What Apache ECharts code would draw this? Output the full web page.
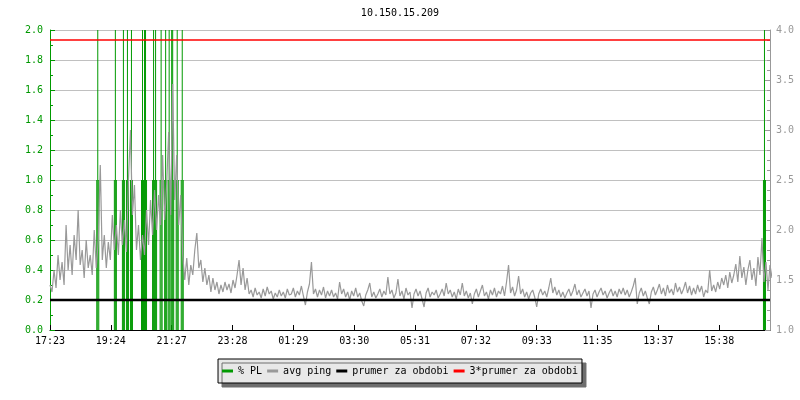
<!DOCTYPE html>
<html>
<head>
<meta charset="utf-8">
<script src="https://cdn.jsdelivr.net/npm/echarts@6/dist/echarts.min.js"></script>
<style>
	html, body { margin: 0; padding: 0; background: #fff; }
	#main { width: 800px; height: 400px; }
</style>
</head>
<body>
<div id="main"></div>
<script>
// popisky osy x (kazdy tick = 121 minut)
var xLabels = ['17:23', '19:24', '21:27', '23:28', '01:29', '03:30', '05:31', '07:32', '09:33', '11:35', '13:37', '15:38']
var tickStep = 121
var xMax = 1432

// avg ping, vzorek kazde 4 minuty (prava osa)
var pingStep = 4
var pingValues = [
	1.45, 1.38, 1.60, 1.42, 1.75, 1.50, 1.68, 1.45, 2.05, 1.60, 1.85, 1.55, 1.95, 1.70, 2.20, 1.65, 1.80, 1.52, 1.90, 1.62,
	1.75, 1.55, 2.00, 1.62, 1.90, 2.65, 1.70, 1.95, 1.62, 1.88, 1.70, 2.15, 1.80, 2.05, 1.75, 2.20, 1.85, 2.10, 1.78, 2.50,
	3.00, 2.15, 2.45, 1.80, 2.05, 1.70, 1.95, 1.75, 2.20, 1.85, 2.30, 1.95, 2.40, 2.00, 2.35, 2.05, 2.75, 2.10, 2.45, 2.98,
	2.15, 3.46, 2.30, 2.75, 2.05, 2.35, 1.75, 1.50, 1.72, 1.45, 1.65, 1.55, 1.80, 1.97, 1.62, 1.70, 1.48, 1.62, 1.45, 1.55,
	1.38, 1.52, 1.40, 1.48, 1.36, 1.45, 1.38, 1.48, 1.40, 1.46, 1.37, 1.50, 1.42, 1.55, 1.70, 1.45, 1.62, 1.40, 1.52, 1.36,
	1.40, 1.33, 1.42, 1.35, 1.38, 1.32, 1.41, 1.34, 1.43, 1.36, 1.39, 1.31, 1.37, 1.33, 1.40, 1.34, 1.38, 1.32, 1.41, 1.35,
	1.36, 1.42, 1.33, 1.39, 1.35, 1.44, 1.34, 1.25, 1.38, 1.46, 1.68, 1.36, 1.41, 1.33, 1.40, 1.35, 1.43, 1.32, 1.39, 1.34,
	1.40, 1.33, 1.37, 1.31, 1.48, 1.36, 1.41, 1.33, 1.38, 1.30, 1.39, 1.34, 1.42, 1.33, 1.37, 1.29, 1.24, 1.35, 1.40, 1.47,
	1.33, 1.38, 1.32, 1.36, 1.41, 1.33, 1.39, 1.35, 1.53, 1.36, 1.40, 1.32, 1.37, 1.51, 1.34, 1.39, 1.31, 1.42, 1.35, 1.38,
	1.22, 1.36, 1.41, 1.34, 1.39, 1.31, 1.23, 1.37, 1.42, 1.33, 1.38, 1.35, 1.40, 1.32, 1.36, 1.41, 1.34, 1.47, 1.36, 1.40,
	1.33, 1.38, 1.31, 1.41, 1.35, 1.47, 1.34, 1.39, 1.32, 1.37, 1.26, 1.36, 1.41, 1.33, 1.39, 1.45, 1.34, 1.38, 1.31, 1.40,
	1.35, 1.42, 1.33, 1.39, 1.36, 1.44, 1.34, 1.48, 1.65, 1.37, 1.43, 1.34, 1.40, 1.54, 1.36, 1.41, 1.33, 1.38, 1.31, 1.37,
	1.40, 1.33, 1.23, 1.36, 1.41, 1.35, 1.39, 1.33, 1.42, 1.52, 1.37, 1.43, 1.35, 1.40, 1.33, 1.38, 1.32, 1.37, 1.41, 1.34,
	1.39, 1.46, 1.35, 1.40, 1.33, 1.37, 1.41, 1.34, 1.39, 1.22, 1.36, 1.40, 1.33, 1.38, 1.42, 1.35, 1.39, 1.32, 1.37, 1.41,
	1.34, 1.39, 1.33, 1.41, 1.36, 1.42, 1.35, 1.40, 1.33, 1.38, 1.44, 1.52, 1.26, 1.37, 1.42, 1.34, 1.39, 1.32, 1.26, 1.38,
	1.43, 1.35, 1.40, 1.46, 1.36, 1.42, 1.34, 1.45, 1.37, 1.41, 1.35, 1.47, 1.38, 1.43, 1.36, 1.41, 1.48, 1.37, 1.44, 1.35,
	1.42, 1.36, 1.45, 1.38, 1.44, 1.33, 1.40, 1.37, 1.60, 1.39, 1.45, 1.38, 1.48, 1.41, 1.52, 1.45, 1.55, 1.42, 1.58, 1.47,
	1.55, 1.66, 1.48, 1.74, 1.52, 1.63, 1.45, 1.60, 1.70, 1.50, 1.62, 1.44, 1.73, 1.55, 1.92, 1.48, 1.68, 1.40, 1.65, 1.52
]

// % PL (leva osa), cas v minutach od 17:23
var plTimes = [93, 95, 97, 128, 130, 132, 144, 146, 148, 152, 154, 156, 160, 162, 164, 182, 184, 186, 188, 190, 192,
	204, 206, 208, 210, 212, 219, 221, 223, 228, 230, 232, 235, 237, 239, 242, 244, 246, 251, 253, 255, 261, 263, 265,
	1419, 1421, 1423]
var plValues = [1, 2, 1, 1, 2, 1, 1, 2, 1, 1, 2, 1, 1, 2, 1, 1, 2, 1, 2, 2, 1,
	1, 2, 1, 2, 1, 1, 2, 1, 1, 2, 1, 1, 2, 1, 2, 2, 1, 1, 2, 1, 1, 2, 1,
	1, 2, 1]

var prumer = 1.3
var leftTicks = ['0.0', '0.2', '0.4', '0.6', '0.8', '1.0', '1.2', '1.4', '1.6', '1.8', '2.0']

var font = 'DejaVu Sans Mono'
var green = '#009900'

var pingData = pingValues.map(function (v, i) { return [i * pingStep, v] })
var plData = plTimes.map(function (t, i) { return [t, plValues[i]] })

var myChart = echarts.init(document.getElementById('main'))
var option = {
	animation: false,
	backgroundColor: '#fff',
	title: {
		text: '10.150.15.209',
		left: 'center',
		top: 3,
		textStyle: { fontFamily: font, fontSize: 10, fontWeight: 'normal', color: '#000' }
	},
	grid: { left: 50, right: 30, top: 30, bottom: 70 },
	legend: {
		top: 359,
		left: 'center',
		padding: [7, 4, 7, 4],
		itemWidth: 11,
		itemHeight: 3,
		itemGap: 5,
		backgroundColor: '#e8e8e8',
		borderColor: '#000',
		borderWidth: 1,
		borderRadius: 0,
		shadowColor: '#6e6e6e',
		shadowBlur: 0,
		shadowOffsetX: 4,
		shadowOffsetY: 4,
		textStyle: { fontFamily: font, fontSize: 10, color: '#000' },
		data: [
			{ name: '% PL', icon: 'rect' },
			{ name: 'avg ping', icon: 'rect' },
			{ name: 'prumer za obdobi', icon: 'rect' },
			{ name: '3*prumer za obdobi', icon: 'rect' }
		]
	},
	xAxis: {
		type: 'value',
		min: 0,
		max: xMax,
		interval: tickStep,
		axisLine: { lineStyle: { color: '#000' } },
		axisTick: { inside: true, length: 5, lineStyle: { color: '#000' } },
		axisLabel: {
			fontFamily: font,
			fontSize: 10,
			color: '#000',
			margin: 6,
			showMaxLabel: false,
			formatter: function (v) {
				var k = Math.round(v / tickStep)
				if (Math.abs(k * tickStep - v) > 0.01) return ''
				return xLabels[k] || ''
			}
		},
		splitLine: { show: false }
	},
	yAxis: [
		{
			type: 'value',
			min: 0,
			max: 2,
			interval: 0.2,
			axisLine: { show: true, lineStyle: { color: green } },
			axisTick: { show: true, inside: true, length: 5, lineStyle: { color: green } },
			minorTick: { show: true, splitNumber: 2, length: 3, lineStyle: { color: green } },
			axisLabel: {
				fontFamily: font,
				fontSize: 10,
				color: green,
				margin: 7,
				formatter: function (v) { return leftTicks[Math.round(v / 0.2)] }
			},
			splitLine: { show: true, lineStyle: { color: '#c0c0c0', width: 1 } }
		},
		{
			type: 'value',
			min: 1,
			max: 4,
			interval: 0.5,
			position: 'right',
			axisLine: { show: true, lineStyle: { color: '#999' } },
			axisTick: { show: true, inside: true, length: 5, lineStyle: { color: '#999' } },
			minorTick: { show: true, splitNumber: 5, length: 3, lineStyle: { color: '#999' } },
			axisLabel: {
				fontFamily: font,
				fontSize: 10,
				color: '#999',
				margin: 6,
				formatter: function (v) { return v.toFixed(1) }
			},
			splitLine: { show: false }
		}
	],
	series: [
		{
			name: '% PL',
			type: 'bar',
			yAxisIndex: 0,
			barWidth: 1,
			itemStyle: { color: green },
			z: 2,
			data: plData
		},
		{
			name: 'avg ping',
			type: 'line',
			yAxisIndex: 1,
			showSymbol: false,
			symbol: 'none',
			lineStyle: { color: '#999', width: 1.2 },
			itemStyle: { color: '#999' },
			z: 3,
			data: pingData
		},
		{
			name: 'prumer za obdobi',
			type: 'line',
			yAxisIndex: 1,
			symbol: 'none',
			lineStyle: { color: '#000', width: 2.5 },
			itemStyle: { color: '#000' },
			z: 4,
			data: [[0, prumer], [xMax, prumer]]
		},
		{
			name: '3*prumer za obdobi',
			type: 'line',
			yAxisIndex: 1,
			symbol: 'none',
			lineStyle: { color: '#ff0000', width: 1.5 },
			itemStyle: { color: '#ff0000' },
			z: 4,
			data: [[0, 3 * prumer], [xMax, 3 * prumer]]
		}
	]
}
myChart.setOption(option)
</script>
</body>
</html>
